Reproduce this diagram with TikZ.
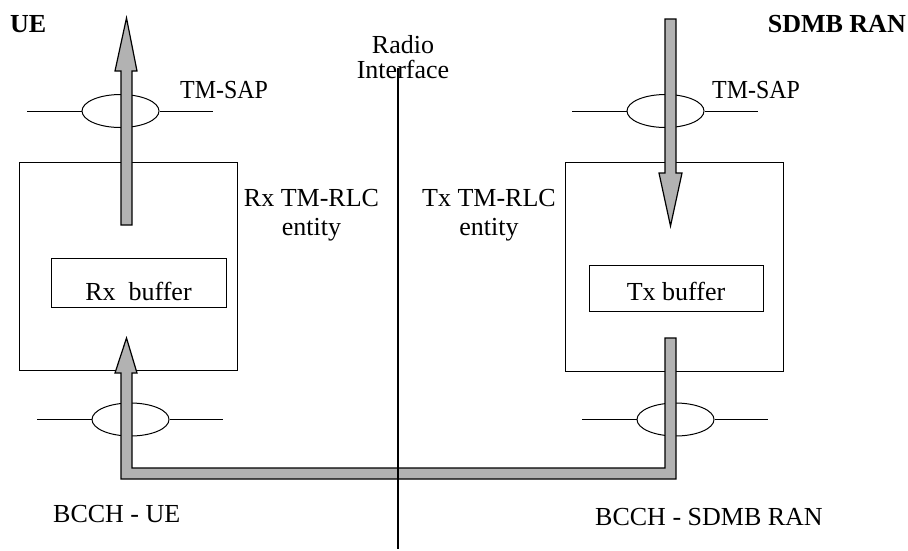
\documentclass[tikz,border=0pt]{standalone}
\usepackage{fontspec}
\setmainfont{Liberation Serif}
\usetikzlibrary{shapes.geometric}
\definecolor{arrowgray}{RGB}{178,178,178}
\begin{document}
\begin{tikzpicture}[x=1pt,y=-1pt,
  font=\fontsize{26}{29}\selectfont,
  lbl/.style={inner sep=0},
  box/.style={draw, line width=1pt, inner sep=0},
  sap/.style={draw, ellipse, line width=1pt, minimum width=77pt, minimum height=33pt, inner sep=0},
  fat/.style={draw, line width=1.2pt, fill=arrowgray, line join=miter},
  thin/.style={line width=1pt}]
\useasboundingbox (0,0) rectangle (908,550);

% entity boxes
\node[box, minimum width=218pt, minimum height=208pt] (rxent) at (128,266) {};
\node[box, minimum width=218pt, minimum height=209pt] (txent) at (674,266.5) {};

% buffers
\node[box, minimum width=175pt, text height=42pt, text depth=7pt, anchor=base] (rxbuf) at (138.5,300) {Rx\ \ buffer};
\node[box, minimum width=174pt, text height=35pt, text depth=11pt, anchor=base] (txbuf) at (676,300) {Tx buffer};

% service access points
\node[sap] (sapA) at (120.5,111) {};
\node[sap] (sapB) at (665.5,111) {};
\node[sap] (sapC) at (130.5,419.5) {};
\node[sap] (sapD) at (675.5,419.5) {};
\coordinate (sapAl) at (27,111);  \coordinate (sapAr) at (213,111);
\coordinate (sapBl) at (572,111); \coordinate (sapBr) at (758,111);
\coordinate (sapCl) at (37,419.5); \coordinate (sapCr) at (223,419.5);
\coordinate (sapDl) at (582,419.5); \coordinate (sapDr) at (768,419.5);
\draw[thin] (sapAl) -- (sapA.west); \draw[thin] (sapA.east) -- (sapAr);
\draw[thin] (sapBl) -- (sapB.west); \draw[thin] (sapB.east) -- (sapBr);
\draw[thin] (sapCl) -- (sapC.west); \draw[thin] (sapC.east) -- (sapCr);
\draw[thin] (sapDl) -- (sapD.west); \draw[thin] (sapD.east) -- (sapDr);

% fat arrows
\draw[fat] (121,225) -- (121,71) -- (115,71) -- (126.5,18) -- (137,71) -- (132,71) -- (132,225) -- cycle;
\draw[fat] (665,19) -- (676,19) -- (676,173) -- (682,173) -- (670.5,226) -- (659,173) -- (665,173) -- cycle;
\draw[fat] (126.5,338) -- (137,373) -- (132,373) -- (132,468) -- (665,468) -- (665,338) -- (676,338)
  -- (676,479) -- (121,479) -- (121,373) -- (115,373) -- cycle;

% labels
\node[lbl, anchor=base west] (ue) at (10,32) {\bfseries UE};
\node[lbl, anchor=base east] (ran) at (906,32) {\bfseries SDMB RAN};
\node[lbl, anchor=base west] (tmsapA) at (180,98) {\scalebox{0.92}[1]{TM-SAP}};
\node[lbl, anchor=base west] (tmsapB) at (712,98) {\scalebox{0.92}[1]{TM-SAP}};
\node[lbl, anchor=north, align=center, font=\fontsize{26}{25}\selectfont] (radio) at (403,35) {Radio\\Interface};
\node[lbl, anchor=north, align=center] (rxrlc) at (311.5,189) {Rx TM-RLC\\entity};
\node[lbl, anchor=north, align=center] (txrlc) at (489,189) {Tx TM-RLC\\entity};
\node[lbl, anchor=base west] (bccha) at (53,522) {BCCH - UE};
\node[lbl, anchor=base west] (bcchb) at (595,525) {BCCH - SDMB RAN};

% radio interface line
\coordinate (rtop) at (398,68);
\coordinate (rbot) at (398,549);
\draw[line width=1.5pt] (rtop) -- (rbot);
\end{tikzpicture}
\end{document}
